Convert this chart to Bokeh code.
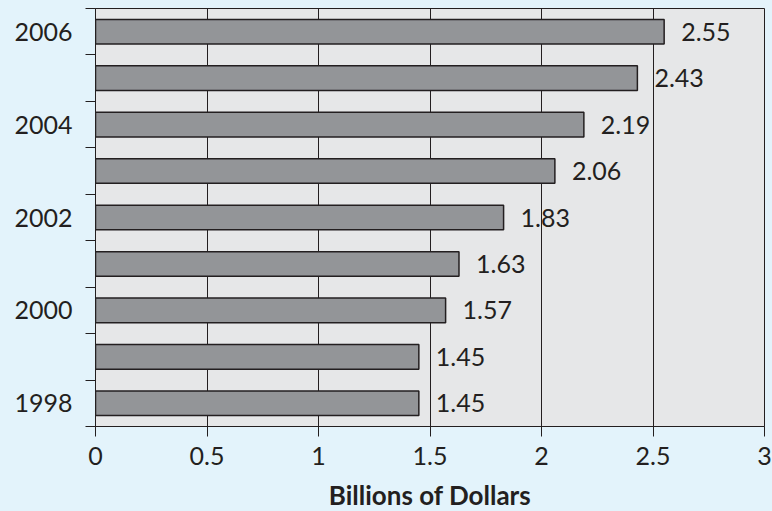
from bokeh.plotting import figure
from bokeh.models import FixedTicker, NumeralTickFormatter, ColumnDataSource, Range1d
from bokeh.core.properties import value
from bokeh.embed import file_html
from bokeh.resources import INLINE

years = ["1998", "1999", "2000", "2001", "2002", "2003", "2004", "2005", "2006"]
values = [1.45, 1.45, 1.57, 1.63, 1.83, 2.06, 2.19, 2.43, 2.55]
labeled_years = ["1998", "2000", "2002", "2004", "2006"]
x_ticks = [0, 0.5, 1, 1.5, 2, 2.5, 3]
x_title = "Billions of Dollars"

INK = "#231f20"
BG = "#e3f3fb"
FONT = "Lato"
FS = "25px"
pos = [i + 0.5 for i in range(len(years))]
src = ColumnDataSource(dict(y=pos, v=values, lab=[f"{v:.2f}" for v in values]))

p = figure(width=772, height=511, frame_width=669, frame_height=418,
           output_backend="svg", toolbar_location=None,
           x_range=Range1d(0, 3), y_range=Range1d(0, len(years)),
           min_border_left=95, min_border_right=8, min_border_top=8, min_border_bottom=85)

p.background_fill_color = "#e6e7e8"
p.border_fill_color = BG
p.outline_line_color = INK
p.outline_line_width = 1

p.hbar(y="y", left=0, right="v", height=0.53, source=src,
       fill_color="#939598", line_color=INK, line_width=1.5)
p.text(x="v", y="y", text="lab", source=src, x_offset=17, text_align="left",
       text_baseline="middle", text_font=value(FONT), text_font_size=FS,
       text_color=INK)

# x axis
xa = p.xaxis[0]
xa.ticker = FixedTicker(ticks=x_ticks)
xa.formatter = NumeralTickFormatter(format="0.[0]")
xa.major_tick_out = 10
xa.major_tick_in = 0
xa.minor_tick_out = 0
xa.major_tick_line_color = INK
xa.axis_line_color = INK
xa.major_label_text_font = FONT
xa.major_label_text_font_size = FS
xa.major_label_text_color = INK
xa.major_label_standoff = 10
xa.axis_label = x_title
xa.axis_label_text_font = FONT
xa.axis_label_text_font_style = "bold"
xa.axis_label_text_font_size = "26px"
xa.axis_label_text_color = INK
xa.axis_label_standoff = 11

# y axis
ya = p.yaxis[0]
major = [pos[i] for i, y in enumerate(years) if y in labeled_years]
ya.ticker = FixedTicker(ticks=major, minor_ticks=list(range(len(years) + 1)))
ya.major_label_overrides = {pos[i]: y for i, y in enumerate(years) if y in labeled_years}
ya.major_tick_out = 0
ya.major_tick_in = 0
ya.minor_tick_out = 10
ya.minor_tick_in = 0
ya.minor_tick_line_color = INK
ya.axis_line_color = INK
ya.major_label_text_font = FONT
ya.major_label_text_font_size = FS
ya.major_label_text_color = INK
ya.major_label_standoff = 13

p.xgrid.ticker = FixedTicker(ticks=x_ticks)
p.xgrid.grid_line_color = INK
p.xgrid.grid_line_alpha = 1
p.ygrid.grid_line_color = None

html = file_html(p, INLINE)
html = html.replace("</head>", "<style>html,body{margin:0 !important;padding:0 !important;"
                    "background:" + BG + ";overflow:hidden}</style></head>", 1)
open("out.html", "w").write(html)
